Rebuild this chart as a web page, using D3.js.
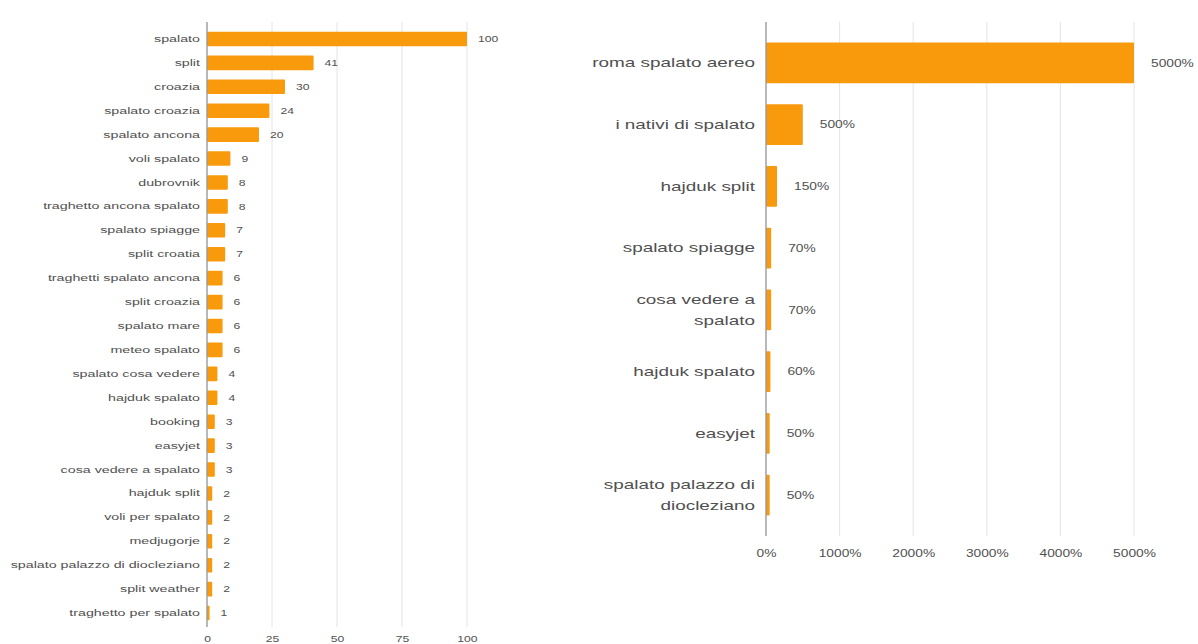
<!DOCTYPE html>
<html>
<head>
<meta charset="utf-8">
<script src="https://cdn.jsdelivr.net/npm/d3@7"></script>
<style>
  html, body { margin: 0; padding: 0; background: #fff; }
  svg { display: block; font-family: "Liberation Sans", Arial, sans-serif; }
</style>
</head>
<body>
<svg id="chart" width="1198" height="644"></svg>
<script>
// Search queries and their counts
const queries = [
  "spalato", "split", "croazia", "spalato croazia", "spalato ancona",
  "voli spalato", "dubrovnik", "traghetto ancona spalato", "spalato spiagge",
  "split croatia", "traghetti spalato ancona", "split croazia", "spalato mare",
  "meteo spalato", "spalato cosa vedere", "hajduk spalato", "booking", "easyjet",
  "cosa vedere a spalato", "hajduk split", "voli per spalato", "medjugorje",
  "spalato palazzo di diocleziano", "split weather", "traghetto per spalato"
];
const queryCounts = [100, 41, 30, 24, 20, 9, 8, 8, 7, 7, 6, 6, 6, 6, 4, 4, 3, 3, 3, 2, 2, 2, 2, 2, 1];
const countTicks = [0, 25, 50, 75, 100];

// Rising queries and their growth
const risingQueries = [
  "roma spalato aereo", "i nativi di spalato", "hajduk split", "spalato spiagge",
  "cosa vedere a spalato", "hajduk spalato", "easyjet", "spalato palazzo di diocleziano"
];
const risingGrowth = [5000, 500, 150, 70, 70, 60, 50, 50];
const growthTicks = [0, 1000, 2000, 3000, 4000, 5000];

const BAR = "#f89a0c";
const GRID = "#e4e4e4";
const BASE = "#9a9a9a";
const TEXT = "#505050";

const svg = d3.select("#chart");

function drawPanel(cfg) {
  const g = svg.append("g");
  const x = d3.scaleLinear().domain(cfg.domain).range(cfg.xRange);
  const y = d3.scaleBand().domain(cfg.cats).range(cfg.yRange).paddingInner(cfg.pad).paddingOuter(cfg.pad / 2);

  // vertical gridlines
  g.selectAll("line.grid").data(cfg.ticks.filter(t => t !== 0)).join("line")
    .attr("class", "grid")
    .attr("x1", d => x(d)).attr("x2", d => x(d))
    .attr("y1", cfg.lineTop).attr("y2", cfg.lineBottom)
    .attr("stroke", GRID).attr("stroke-width", 1);

  // bars
  g.selectAll("rect.bar").data(cfg.values).join("rect")
    .attr("class", "bar")
    .attr("x", x(0))
    .attr("y", (d, i) => y(cfg.cats[i]))
    .attr("width", d => x(d) - x(0))
    .attr("height", y.bandwidth())
    .attr("rx", 1)
    .attr("fill", BAR);

  // baseline
  g.append("line")
    .attr("x1", x(0)).attr("x2", x(0))
    .attr("y1", cfg.lineTop).attr("y2", cfg.lineBottom)
    .attr("stroke", BASE).attr("stroke-width", 1.4);

  // value labels
  g.selectAll("text.val").data(cfg.values).join("text")
    .attr("class", "val")
    .attr("transform", (d, i) => `translate(${x(d) + cfg.valGap},${y(cfg.cats[i]) + y.bandwidth() / 2}) scale(${cfg.vsx},1)`)
    .attr("dy", "0.35em")
    .attr("font-size", cfg.valSize)
    .attr("fill", TEXT)
    .text(d => cfg.fmt(d));

  // category axis
  const yAxis = g.append("g")
    .attr("transform", `translate(${cfg.labelRight},0)`)
    .call(d3.axisLeft(y).tickSize(0).tickPadding(0));
  yAxis.select(".domain").remove();
  yAxis.selectAll(".tick text")
    .attr("font-size", cfg.catSize)
    .attr("fill", TEXT)
    .attr("font-family", "Liberation Sans, Arial, sans-serif")
    .attr("transform", `scale(${cfg.sx},1)`)
    .each(function (d) {
      const wrap = cfg.wrap[d];
      if (!wrap) return;
      const t = d3.select(this);
      t.text(null).attr("dy", null);
      const lh = cfg.lineHeight;
      wrap.forEach((line, k) => {
        t.append("tspan").attr("x", 0)
          .attr("y", (k - (wrap.length - 1) / 2) * lh)
          .attr("dy", "0.35em").text(line);
      });
    });

  // value axis
  const xAxis = g.append("g")
    .attr("transform", `translate(0,${cfg.tickY})`)
    .call(d3.axisBottom(x).tickValues(cfg.ticks).tickSize(0).tickPadding(0).tickFormat(cfg.fmt));
  xAxis.select(".domain").remove();
  xAxis.selectAll(".tick text")
    .attr("font-size", cfg.tickSize)
    .attr("fill", TEXT)
    .attr("font-family", "Liberation Sans, Arial, sans-serif")
    .attr("dy", "0.35em")
    .attr("transform", `scale(${cfg.vsx},1)`);
}

drawPanel({
  cats: queries, values: queryCounts, ticks: countTicks,
  domain: [0, 100], xRange: [207, 467], yRange: [27, 625], pad: 0.39,
  lineTop: 22, lineBottom: 627, tickY: 639,
  labelRight: 200, valGap: 11, sx: 1.5, vsx: 1.35,
  catSize: 9.5, valSize: 9, tickSize: 9, lineHeight: 12,
  fmt: d3.format("d"), wrap: {}
});

drawPanel({
  cats: risingQueries, values: risingGrowth, ticks: growthTicks,
  domain: [0, 5000], xRange: [766, 1134], yRange: [32, 526], pad: 0.34,
  lineTop: 22, lineBottom: 536, tickY: 553,
  labelRight: 755, valGap: 17, sx: 1.4, vsx: 1.25,
  catSize: 13.5, valSize: 11, tickSize: 11, lineHeight: 21,
  fmt: d => d + "%",
  wrap: {
    "cosa vedere a spalato": ["cosa vedere a", "spalato"],
    "spalato palazzo di diocleziano": ["spalato palazzo di", "diocleziano"]
  }
});
</script>
</body>
</html>
